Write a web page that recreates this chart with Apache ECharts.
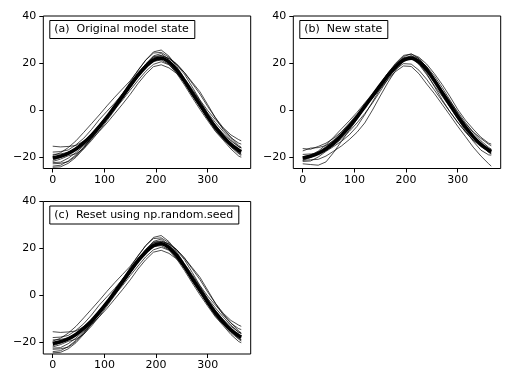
<!DOCTYPE html>
<html><head><meta charset="utf-8">
<script src="https://cdn.jsdelivr.net/npm/echarts@6/dist/echarts.min.js"></script>
<style>html,body{margin:0;padding:0;background:#fff}#c{width:512px;height:384px}</style>
</head><body><div id="c"></div>
<script>
// day of year sample points
var days = [0,15,30,45,60,75,90,105,120,135,150,165,180,195,210,225,240,255,270,285,300,315,330,345,360,365];
var xTicks = [0,100,200,300];
var yTicks = [-20,0,20,40];
var panelLabels = ['(a)  Original model state','(b)  New state','(c)  Reset using np.random.seed'];

// thick mean line
var meanLine = [-20.5,-19.8,-18.6,-16.7,-14.1,-10.9,-7.2,-3.1,1.4,5.9,10.4,14.7,18.4,21.2,22.0,20.4,17.0,12.4,7.3,2.2,-2.8,-7.4,-11.4,-14.7,-17.2,-17.8];

// original model state members (also reproduced by reset with seed)
var orig1 = [-15.5,-15.8,-15.6,-15.2,-13.3,-10.4,-6.9,-3.1,1.1,6.1,10.9,15.5,19.4,22.4,23.0,21.9,19.5,15.9,11.3,6.7,1.4,-3.4,-7.6,-10.7,-12.7,-13.2];
var orig2 = [-24.5,-24.3,-22.8,-20.2,-16.6,-12.4,-8.2,-3.6,0.6,4.7,9.4,14.1,18.1,21.5,22.5,20.6,16.5,11.4,6.1,1.4,-3.8,-8.9,-12.4,-15.9,-18.7,-19.5];
var orig3 = [-19.5,-18.3,-16.1,-13.2,-9.6,-5.9,-2.2,1.7,5.4,8.9,12.4,16.7,21.2,24.7,25.5,22.9,18.5,13.4,8.8,4.0,-1.6,-6.6,-10.2,-13.2,-15.7,-16.3];
var orig4 = [-22.5,-22.3,-20.6,-18.2,-15.3,-12.4,-9.2,-5.6,-1.6,2.4,6.6,11.2,15.2,18.4,19.2,17.9,15.5,11.9,7.3,1.7,-3.8,-8.2,-11.9,-15.5,-18.2,-18.8];
var orig5 = [-21.5,-20.3,-18.1,-16.4,-14.6,-10.7,-6.4,-2.6,1.2,6.4,11.4,15.9,19.4,23.0,24.0,21.4,17.2,12.9,8.1,3.4,-1.3,-5.4,-9.2,-12.7,-15.7,-16.2];
var orig6 = [-23.0,-22.8,-22.1,-19.7,-16.1,-12.1,-7.7,-3.1,1.9,6.7,11.9,16.9,21.2,24.2,24.5,22.4,19.5,15.9,11.8,7.7,2.2,-3.4,-8.4,-11.9,-14.2,-14.6];
var orig7 = [-19.0,-18.8,-18.1,-16.2,-13.3,-10.4,-7.2,-3.6,0.6,4.9,9.6,14.2,17.9,20.7,21.2,19.4,15.5,10.6,5.3,0.2,-4.6,-9.2,-12.9,-16.7,-19.7,-20.2];
var orig8 = [-22.0,-21.0,-19.6,-18.7,-16.6,-13.1,-9.0,-4.6,-0.1,4.9,9.9,14.7,18.9,22.2,22.5,20.4,17.0,12.9,7.6,1.9,-3.3,-8.4,-12.2,-15.2,-18.4,-19.0];
var orig9 = [-18.0,-17.8,-17.1,-14.9,-12.1,-8.4,-4.2,-0.6,2.9,6.9,10.9,15.2,19.6,22.7,23.2,21.9,19.2,15.2,9.8,4.2,-0.3,-4.2,-7.9,-11.7,-15.2,-16.0];
var orig10 = [-24.0,-23.6,-21.8,-19.2,-15.9,-11.9,-7.7,-3.9,0.2,4.1,8.4,12.5,16.4,19.4,20.5,19.2,16.0,11.6,6.3,1.7,-2.8,-6.9,-10.6,-14.2,-17.5,-18.0];

// new state members
var new1 = [-21.5,-21.3,-21.1,-19.7,-17.6,-15.4,-12.7,-9.6,-5.6,-0.1,5.9,11.7,16.9,20.7,21.8,20.4,17.5,13.2,7.8,2.5,-2.8,-7.2,-10.9,-14.4,-17.2,-17.8];
var new2 = [-20.0,-19.3,-18.6,-16.4,-13.6,-10.1,-6.2,-2.6,1.4,5.1,8.9,12.9,16.4,18.7,18.5,15.4,11.0,6.9,2.3,-2.3,-7.0,-11.4,-15.9,-19.7,-23.0,-24.0];
var new3 = [-23.0,-23.3,-23.6,-22.2,-18.1,-13.4,-8.7,-4.1,0.9,5.9,10.7,15.2,19.2,22.2,23.0,21.2,17.5,12.9,8.1,3.2,-2.3,-7.1,-11.4,-15.2,-18.2,-18.8];
var new4 = [-16.5,-16.8,-15.6,-14.2,-12.1,-9.4,-6.2,-2.3,1.9,6.4,11.2,15.7,19.6,22.7,23.8,22.4,19.5,15.4,10.8,5.7,0.2,-4.4,-8.2,-11.7,-14.2,-14.6];
var new5 = [-17.5,-16.3,-16.1,-15.2,-13.1,-10.4,-7.2,-3.4,0.9,4.9,9.9,14.7,18.9,22.0,22.5,19.9,15.5,9.9,4.3,-0.8,-5.3,-9.4,-12.9,-15.7,-17.7,-18.1];
var new6 = [-21.0,-19.8,-18.1,-15.7,-12.9,-9.4,-5.7,-1.9,2.4,6.4,10.9,15.7,19.9,23.2,23.8,21.9,18.2,13.4,8.3,3.7,-0.8,-5.4,-9.6,-13.2,-16.0,-16.8];
var new7 = [-19.0,-18.8,-18.6,-17.2,-15.1,-12.4,-9.2,-5.6,-1.6,2.9,7.9,13.2,17.6,21.2,22.5,21.4,18.5,14.4,9.5,4.2,-1.3,-6.4,-10.9,-14.7,-17.7,-18.6];
var new8 = [-21.5,-20.3,-18.6,-17.2,-15.1,-11.4,-7.2,-2.6,2.2,6.4,10.4,14.2,17.4,19.7,19.5,16.9,13.0,8.4,3.8,-0.8,-5.3,-9.4,-12.9,-15.2,-16.7,-16.8];
var new9 = [-20.5,-19.3,-17.6,-14.9,-11.6,-8.1,-4.7,-1.1,2.9,6.9,10.9,14.7,18.1,21.5,23.0,21.9,18.2,13.2,7.8,2.7,-2.0,-5.9,-9.4,-12.2,-14.7,-15.3];
var new10 = [-22.0,-21.8,-20.1,-17.7,-15.6,-13.4,-10.7,-7.1,-2.1,3.4,8.9,13.9,18.4,21.7,22.0,19.4,15.0,10.2,5.8,1.2,-3.8,-8.9,-13.4,-17.2,-19.2,-19.3];

var origMembers = [orig1,orig2,orig3,orig4,orig5,orig6,orig7,orig8,orig9,orig10];
var newMembers = [new1,new2,new3,new4,new5,new6,new7,new8,new9,new10];
var panelMembers = [origMembers, newMembers, origMembers];

var FONT = 'DejaVu Sans';
var grids = [
  {left:43.3, top:16, width:207.4, height:152.5},
  {left:293.3, top:16, width:207.4, height:152.5},
  {left:43.3, top:201.5, width:207.4, height:152.5}
];
function pairs(arr){ return days.map(function(d,i){ return [d, arr[i]]; }); }
function minus(v){ return String(v).replace('-', '\u2212'); }
var xAxes = [], yAxes = [], series = [], titles = [];
grids.forEach(function(g, k){
  g.show = true; g.borderColor = '#000'; g.borderWidth = 1; g.backgroundColor = 'transparent';
  xAxes.push({type:'value', gridIndex:k, min:-18.25, max:383.25, position:'bottom',
    axisLine:{show:false, onZero:false}, splitLine:{show:false},
    axisTick:{show:true, inside:false, length:4, customValues:xTicks, lineStyle:{color:'#000', width:1}},
    axisLabel:{show:true, margin:6, customValues:xTicks, color:'#000', fontSize:11, fontFamily:FONT, formatter:minus}});
  yAxes.push({type:'value', gridIndex:k, min:-25, max:40, position:'left',
    axisLine:{show:false, onZero:false}, splitLine:{show:false},
    axisTick:{show:true, inside:false, length:4, customValues:yTicks, lineStyle:{color:'#000', width:1}},
    axisLabel:{show:true, margin:7, customValues:yTicks, color:'#000', fontSize:11, fontFamily:FONT, formatter:minus}});
  panelMembers[k].forEach(function(m){
    series.push({type:'line', xAxisIndex:k, yAxisIndex:k, data:pairs(m), symbol:'none',
      lineStyle:{color:'#000', width:0.7, opacity:1}, z:2, silent:true});
  });
  series.push({type:'line', xAxisIndex:k, yAxisIndex:k, data:pairs(meanLine), symbol:'none', smooth:0.35,
    lineStyle:{color:'#000', width:3.6}, z:3, silent:true});
  titles.push({text:panelLabels[k], left:g.left+6, top:g.top+4,
    backgroundColor:'#fff', borderColor:'#000', borderWidth:1, padding:[3,6,3,5],
    textStyle:{fontFamily:FONT, fontSize:11, fontWeight:'normal', color:'#000', lineHeight:13}, z:10});
});
var chart = echarts.init(document.getElementById('c'), null, {renderer:'canvas'});
chart.setOption({animation:false, backgroundColor:'#fff', title:titles, grid:grids, xAxis:xAxes, yAxis:yAxes, series:series});
</script></body></html>
